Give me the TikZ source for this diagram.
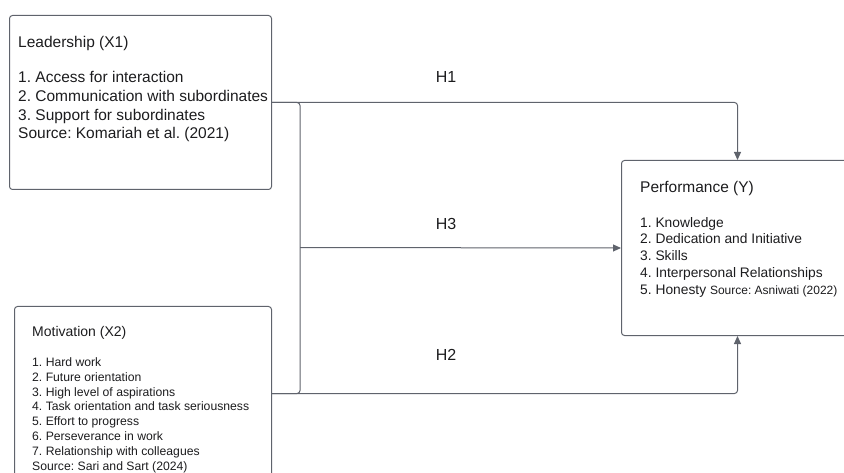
\documentclass[tikz,border=0pt]{standalone}
\usepackage{fontspec}
\setmainfont{Liberation Sans}
\usetikzlibrary{arrows.meta}
\definecolor{ln}{RGB}{95,99,108}
\definecolor{tx}{RGB}{28,28,30}
\begin{document}
\frenchspacing
\begin{tikzpicture}[x=1pt,y=-1pt,
  box/.style={draw=ln, line width=1pt, rounded corners=3pt, inner sep=0pt, anchor=north west},
  conn/.style={draw=ln, line width=1pt, rounded corners=3pt},
  arr/.style={conn, -{Triangle[length=8pt,width=7pt]}},
  txt/.style={text=tx, inner sep=0pt, anchor=north west, align=left},
  ttl/.style={text=tx, inner sep=0pt, anchor=base west},
  hlab/.style={text=tx, inner sep=0pt, anchor=base, font=\fontsize{16}{18}\selectfont}]
\useasboundingbox (0,0) rectangle (844,473);
\clip (0,0) rectangle (844,473);
% boxes
\node[box, minimum width=262pt, minimum height=174pt] (lead) at (9,15) {};
\node[box, minimum width=257pt, minimum height=174pt] (mot) at (14,306) {};
\node[box, minimum width=232pt, minimum height=175pt] (perf) at (621,160) {};
% texts
\node[ttl, font=\fontsize{15.5}{18.7}\selectfont\frenchspacing] (leadT) at (18,47.5) {Leadership (X1)};
\node[txt, font=\fontsize{15.5}{18.7}\selectfont\frenchspacing] (leadL) at (18,71.3)
  {1. Access for interaction\\2. Communication with subordinates\\3. Support for subordinates\\Source: Komariah et al. (2021)};
\node[ttl, font=\fontsize{14}{16}\selectfont\frenchspacing] (motT) at (32,337) {Motivation (X2)};
\node[txt, font=\fontsize{12.2}{14.8}\selectfont\frenchspacing] (motL) at (32,357.5)
  {1. Hard work\\2. Future orientation\\3. High level of aspirations\\4. Task orientation and task seriousness\\5. Effort to progress\\6. Perseverance in work\\7. Relationship with colleagues\\Source: Sari and Sart (2024)};
\node[ttl, font=\fontsize{15.5}{18.7}\selectfont\frenchspacing] (perfT) at (640,192.5) {Performance (Y)};
\node[txt, font=\fontsize{13.8}{16.8}\selectfont\frenchspacing] (perfL) at (640,216.9)
  {1. Knowledge\\2. Dedication and Initiative\\3. Skills\\4. Interpersonal Relationships\\5. Honesty {\fontsize{12}{16.8}\selectfont Source: Asniwati (2022)}};
% connectors
\coordinate (jn) at (300,247.5);
\draw[arr] (lead.east) -| (perf.north);
\draw[conn] (lead.east) -| (jn) |- (mot.east);
\draw[arr] (jn) -- (perf.west);
\draw[arr] (mot.east) -| (perf.south);
% labels
\node[hlab] (h1) at (446,82.7) {H1};
\node[hlab] (h3) at (446,229.7) {H3};
\node[hlab] (h2) at (446,360.7) {H2};
\end{tikzpicture}
\end{document}
